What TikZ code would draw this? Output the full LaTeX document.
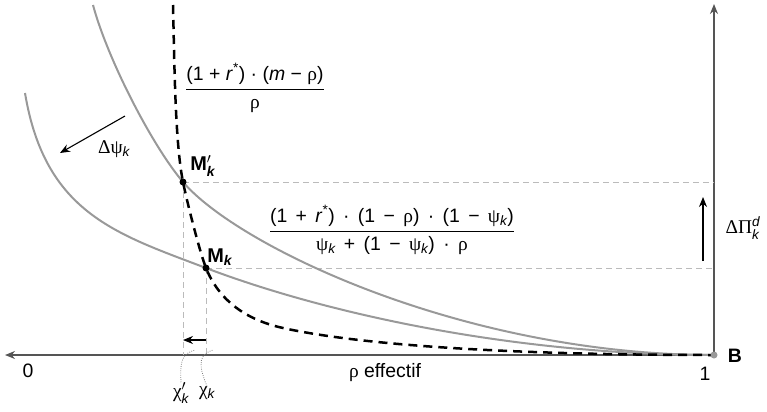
\documentclass[tikz,border=0pt]{standalone}
\usepackage{amsmath}
\usepackage{fontspec}
\setmainfont{Liberation Sans}
\newfontfamily\grk{Liberation Serif}
\usetikzlibrary{arrows.meta}
\definecolor{axisgray}{HTML}{555555}
\definecolor{curvegray}{HTML}{999999}
\definecolor{guidegray}{HTML}{BBBBBB}
\newcommand{\myrho}{{\grk ρ}}
\newcommand{\mypsi}{{\grk ψ}}
\newcommand{\subk}{\textsubscript{\itshape k}}
\begin{document}
\begin{tikzpicture}[x=1bp,y=-1bp,
  axisline/.style={draw=axisgray, line width=1.5bp, -{Stealth[length=10bp,width=8bp]}},
  grcurve/.style={draw=curvegray, line width=2bp},
  ratiocurve/.style={draw=black, line width=2.5bp, dash pattern=on 9bp off 6bp},
  guideline/.style={draw=guidegray, line width=1bp, dash pattern=on 6bp off 4bp},
  leader/.style={draw=gray, line width=0.8bp, dash pattern=on 0.8bp off 1.4bp},
  thinarrow/.style={draw=black, line width=1.1bp, -{Stealth[length=10bp,width=8bp]}},
  blackdot/.style={circle, fill=black, inner sep=0pt, minimum size=7bp},
  graydot/.style={circle, fill=curvegray, inner sep=0pt, minimum size=7bp},
  lbl/.style={font=\fontsize{19.5}{23}\selectfont, inner sep=0pt},
  mlbl/.style={font=\fontsize{20}{23}\selectfont\bfseries, inner sep=0pt}]
\useasboundingbox (0,0) rectangle (767,411);

% axes
\coordinate (B0) at (714,355);
\coordinate (xend) at (5,355);
\coordinate (yend) at (714,4);
\draw[axisline] (B0) -- (xend);
\draw[axisline] (B0) -- (yend);

% points
\coordinate (Mp0) at (183,182);
\coordinate (M0) at (206,268);
\coordinate (Rk) at (283,328);

% guides
\draw[guideline] (Mp0) -- (Mp0 -| B0);
\draw[guideline] (M0) -- (M0 -| B0);
\draw[guideline] (Mp0) -- (Mp0 |- B0);
\draw[guideline] (M0) -- (M0 |- B0);

% curves
\draw[grcurve] (93,5) .. controls (108,60.5) and (153,146.9) .. (Mp0)
  .. controls (238,246.4) and (464,355) .. (B0);
\draw[grcurve] (25,93) .. controls (45,213) and (116,233.8) .. (M0)
  .. controls (326,313.6) and (514,355) .. (B0);
\draw[ratiocurve] (173,5) .. controls (174.5,65) and (175,142) .. (Mp0)
  .. controls (187,202) and (200,253) .. (M0)
  .. controls (221,305.5) and (253,321.4) .. (Rk)
  .. controls (363,345.6) and (514,355) .. (B0);

% dots
\node[blackdot] (Mp) at (Mp0) {};
\node[blackdot] (M) at (M0) {};
\node[graydot] (B) at (B0) {};

% small arrows
\coordinate (sa1) at (206,340);
\coordinate (sa2) at (183,340);
\draw[thinarrow] (sa1) -- (sa2);
\coordinate (pa1) at (703,261);
\coordinate (pa2) at (703,197);
\draw[thinarrow] (pa1) -- (pa2);
\coordinate (da1) at (125,116);
\coordinate (da2) at (60,153);
\draw[thinarrow] (da1) -- (da2);

% labels
\node[lbl] (f1) at (255,88) {$\dfrac{\text{(1 + \textit{r}\textsuperscript{*}) · (\textit{m} − \myrho)}}{\text{\myrho}}$};
\node[lbl] (f2) at (392,230) {\spaceskip=0.43em\relax$\dfrac{\text{(1 + \textit{r}\textsuperscript{*}) · (1 − \myrho) · (1 − \mypsi\subk)}}{\text{\mypsi\subk{} + (1 − \mypsi\subk) · \myrho}}$};
\node[mlbl] (Mpl) at (203,166) {M$^{\prime}_{\textbf{\textit{k}}}$};
\node[mlbl] (Ml) at (220,257) {M$_{\textbf{\textit{k}}}$};
\node[lbl] (dpsi) at (114,149) {{\grk Δψ}\subk};
\node[lbl] (dpi) at (743,228) {{\grk ΔΠ}$^{\textit{d}}_{\textit{k}}$};
\node[lbl, font=\fontsize{19.5}{23}\selectfont\bfseries] (Bl) at (735,356) {B};
\node[lbl] (one) at (705,374) {1};
\node[lbl] (zero) at (28,371) {0};
\node[lbl] (xlab) at (385,373) {\myrho{} effectif};
\node[lbl] (chip) at (181,393) {{\grk χ}$^{\prime}_{\textit{k}}$};
\node[lbl] (chi) at (207,393) {{\grk χ}$_{\textit{k}}$};

% leaders
\draw[leader] (chip.north) .. controls (180,360) and (182,354) .. (195,350);
\draw[leader] (chi.north) .. controls (197,362) and (200,354) .. (213,350);
\end{tikzpicture}
\end{document}
